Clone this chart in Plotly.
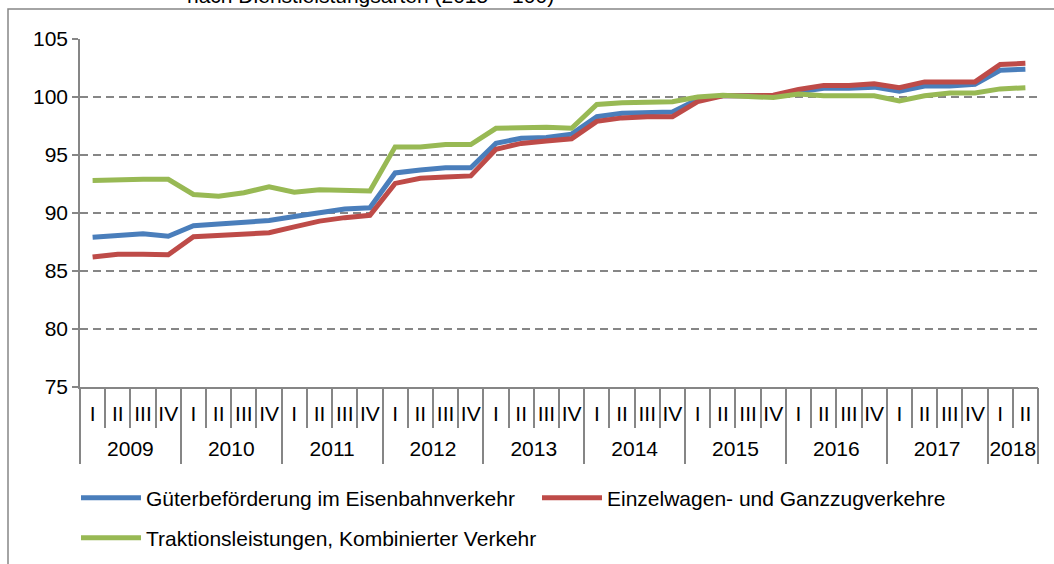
import plotly.graph_objects as go

years = ["2009", "2010", "2011", "2012", "2013", "2014", "2015", "2016", "2017", "2018"]
quarters = ["I", "II", "III", "IV"]
quarters_last_year = ["I", "II"]

gueter = [87.9, 88.1, 88.2, 88.0,
          88.9, 89.05, 89.2, 89.35,
          89.7, 90.05, 90.35, 90.45,
          93.45, 93.7, 93.9, 93.9,
          96.0, 96.45, 96.5, 96.8,
          98.3, 98.6, 98.6, 98.7,
          99.8, 100.1, 100.1, 100.1,
          100.45, 100.75, 100.75, 100.85,
          100.5, 100.95, 100.95, 101.1,
          102.3, 102.4]

einzelwagen = [86.2, 86.45, 86.45, 86.4,
               87.95, 88.05, 88.1, 88.3,
               88.8, 89.3, 89.6, 89.8,
               92.55, 93.0, 93.1, 93.2,
               95.5, 96.0, 96.2, 96.4,
               97.9, 98.2, 98.3, 98.3,
               99.6, 100.1, 100.1, 100.15,
               100.65, 101.0, 101.0, 101.15,
               100.8, 101.3, 101.3, 101.3,
               102.8, 102.9]

traktion = [92.8, 92.9, 92.9, 92.9,
            91.6, 91.45, 91.75, 92.25,
            91.8, 92.0, 91.9, 91.9,
            95.7, 95.7, 95.9, 95.9,
            97.3, 97.4, 97.4, 97.3,
            99.35, 99.5, 99.6, 99.6,
            100.0, 100.15, 100.05, 99.95,
            100.25, 100.1, 100.1, 100.1,
            99.65, 100.1, 100.35, 100.35,
            100.7, 100.8]

series_names = ["Güterbeförderung im Eisenbahnverkehr",
                "Einzelwagen- und Ganzzugverkehre",
                "Traktionsleistungen, Kombinierter Verkehr"]
series_colors = ["#4A7EBB", "#BE4B48", "#98B954"]
title_text = "nach Dienstleistungsarten (2015 = 100)"

# build the two-level categories
x_year, x_q = [], []
for y in years:
    qs = quarters_last_year if y == years[-1] else quarters
    for q in qs:
        x_year.append(y)
        x_q.append(q)
n_cat = len(x_q)

# axis decoration positions derived from the category structure
cat_idx = list(range(n_cat))
cat_bounds = [i - 0.5 for i in range(n_cat + 1)]
year_counts = [x_year.count(y) for y in years]
year_bounds, year_centers = [-0.5], []
for c in year_counts:
    year_centers.append(year_bounds[-1] + c / 2)
    year_bounds.append(year_bounds[-1] + c)

FONT = "Liberation Sans, Arial, sans-serif"
GREY = "#868686"
CLEAR = "rgba(0,0,0,0)"

W, H = 1054, 564
L, R, T, B = 80, 16, 39, 177
pw, ph = W - L - R, H - T - B


def px_x(p):
    return (p - L) / pw


def px_y(p):
    return (H - B - p) / ph


fig = go.Figure()
legends = ["legend", "legend2", "legend3"]
for vals, name, col, lg in zip([gueter, einzelwagen, traktion], series_names, series_colors, legends):
    fig.add_trace(go.Scatter(
        x=[x_year, x_q], y=vals, name=name, mode="lines",
        line=dict(color=col, width=5), legend=lg, showlegend=True,
    ))

# empty helper traces so the overlaid decoration axes are rendered
for ax in ["x2", "x3", "x4"]:
    fig.add_trace(go.Scatter(x=[], y=[], xaxis=ax, yaxis="y", showlegend=False,
                             hoverinfo="skip", mode="lines"))

leg_common = dict(orientation="h", font=dict(family=FONT, size=21, color="black"),
                  bgcolor=CLEAR, itemwidth=60, xanchor="left", yanchor="middle",
                  xref="container", yref="container", tracegroupgap=0, visible=True)

tick_font = dict(family=FONT, size=21, color="black")
overlay_common = dict(overlaying="x", anchor="y", side="bottom", type="linear",
                      range=[-0.5, n_cat - 0.5], tickmode="array",
                      showgrid=False, showline=False, zeroline=False, fixedrange=True)

fig.update_layout(
    width=W, height=H,
    showlegend=True,
    margin=dict(l=L, r=R, t=T, b=B, autoexpand=False),
    paper_bgcolor="white", plot_bgcolor="white",
    font=dict(family=FONT, size=21, color="black"),
    legend=dict(x=76 / W, y=(H - 498) / H, **leg_common),
    legend2=dict(x=537 / W, y=(H - 498) / H, **leg_common),
    legend3=dict(x=76 / W, y=(H - 538) / H, **leg_common),
    xaxis=dict(
        type="multicategory", range=[-0.5, n_cat - 0.5],
        showline=True, linecolor=GREY, linewidth=1.5,
        ticks="", showticklabels=False, showdividers=False, showgrid=False,
    ),
    # quarter separators (minor) and year dividers (major)
    xaxis2=dict(
        tickvals=year_bounds, ticks="outside", ticklen=76, tickcolor=GREY, tickwidth=1.5,
        showticklabels=False,
        minor=dict(tickmode="array", tickvals=cat_bounds, ticks="outside", ticklen=40,
                   tickcolor=GREY, tickwidth=1.5, showgrid=False),
        **overlay_common,
    ),
    # quarter labels
    xaxis3=dict(
        tickvals=cat_idx, ticktext=x_q, ticks="outside", ticklen=8, tickcolor=CLEAR,
        tickfont=tick_font, tickangle=0, **overlay_common,
    ),
    # year labels
    xaxis4=dict(
        tickvals=year_centers, ticktext=years, ticks="outside", ticklen=43, tickcolor=CLEAR,
        tickfont=tick_font, tickangle=0, **overlay_common,
    ),
    yaxis=dict(
        range=[75, 105], dtick=5, tick0=75, showline=True, linecolor=GREY, linewidth=1.5,
        ticks="outside", ticklen=6, tickcolor=GREY, tickwidth=1.5,
        showgrid=True, gridcolor=GREY, gridwidth=1.5, griddash="8px,5px",
        zeroline=False, tickfont=tick_font,
    ),
    shapes=[dict(type="rect", xref="paper", yref="paper",
                 x0=px_x(8), x1=px_x(1070), y0=px_y(580), y1=px_y(9),
                 line=dict(color=GREY, width=1.5), fillcolor=CLEAR, layer="below")],
    annotations=[dict(text=title_text, xref="paper", yref="paper", x=px_x(185), y=px_y(9),
                      xanchor="left", yanchor="bottom", showarrow=False,
                      font=dict(family=FONT, size=21, color="black"))],
)

fig.write_html("out.html", config={"displayModeBar": False},
               post_script="document.body.style.margin='0';")
